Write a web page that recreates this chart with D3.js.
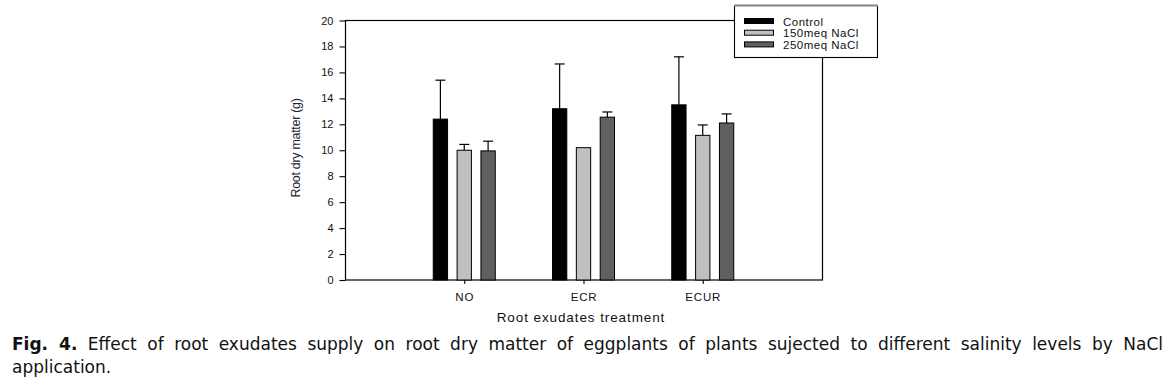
<!DOCTYPE html>
<html>
<head>
<meta charset="utf-8">
<script src="https://cdn.jsdelivr.net/npm/d3@7"></script>
<style>
	html, body { margin: 0; padding: 0; background: #fff; }
	#wrap { position: relative; width: 1172px; height: 384px; overflow: hidden; }
	#chart { position: absolute; left: 0; top: 0; }
	#caption {
		position: absolute;
		left: 12px;
		top: 333px;
		width: 1151px;
		font-family: 'DejaVu Sans', Verdana, sans-serif;
		font-size: 17px;
		line-height: 23px;
		color: #111;
	}
	#caption .line1 { text-align: justify; text-align-last: justify; }
</style>
</head>
<body>
<div id="wrap">
	<div id="chart"></div>
	<div id="caption">
		<div class="line1"><b>Fig. 4.</b> Effect of root exudates supply on root dry matter of eggplants of plants sujected to different salinity levels by NaCl</div>
		<div>application.</div>
	</div>
</div>
<script>
/* global d3 */

// Treatments on the x axis
const categories = [ 'NO', 'ECR', 'ECUR' ];

// Salinity levels (legend)
const seriesNames = [ 'Control', '150meq NaCl', '250meq NaCl' ];

// Root dry matter (g), one array per salinity level
const controlValues = [ 12.4, 13.2, 13.5 ];
const nacl150Values = [ 10.0, 10.2, 11.15 ];
const nacl250Values = [ 9.95, 12.55, 12.1 ];

// Upper error bars (g)
const controlErrors = [ 3.0, 3.45, 3.7 ];
const nacl150Errors = [ 0.45, 0, 0.8 ];
const nacl250Errors = [ 0.75, 0.4, 0.7 ];

const yTicks = [ 0, 2, 4, 6, 8, 10, 12, 14, 16, 18, 20 ];

/**
 * Grouped bar chart with upper error bars
 */
class RootMatterChart {
	constructor( selector ) {
		this.selector = selector;
		this.config = {
			width: 1172,
			height: 384,
			left: 345,
			right: 822,
			top: 20.5,
			bottom: 280,
			barWidth: 0.12,
			barStep: 0.2,
			capHalf: 5,
			fills: [ '#000000', '#c0c0c0', '#606060' ],
			font: '"Liberation Sans", Arial, sans-serif',
		};
		this.series = [
			{ name: seriesNames[ 0 ], values: controlValues, errors: controlErrors },
			{ name: seriesNames[ 1 ], values: nacl150Values, errors: nacl150Errors },
			{ name: seriesNames[ 2 ], values: nacl250Values, errors: nacl250Errors },
		];

		this.createSVG();
		this.setupScales();
		this.drawFrame();
		this.drawAxes();
		this.drawBars();
		this.drawLegend();
	}

	createSVG() {
		const { width, height } = this.config;
		this.svg = d3.select( this.selector )
			.append( 'svg' )
			.attr( 'width', width )
			.attr( 'height', height );
	}

	setupScales() {
		const { left, right, top, bottom } = this.config;
		// categories sit at 1, 2, 3 on a 0..4 axis
		this.x = d3.scaleLinear().domain( [ 0, categories.length + 1 ] ).range( [ left, right ] );
		this.y = d3.scaleLinear().domain( [ 0, 20 ] ).range( [ bottom, top ] );
	}

	drawFrame() {
		const { left, right, top, bottom } = this.config;
		this.svg.append( 'rect' )
			.attr( 'x', left + 0.5 )
			.attr( 'y', top )
			.attr( 'width', right - left )
			.attr( 'height', bottom - top )
			.attr( 'fill', 'none' )
			.attr( 'stroke', '#000' )
			.attr( 'stroke-width', 1.2 );
	}

	drawAxes() {
		const { left, bottom, font } = this.config;

		const yAxis = this.svg.append( 'g' )
			.attr( 'transform', `translate(${ left + 0.5 },0)` )
			.call( d3.axisLeft( this.y ).tickValues( yTicks ).tickSize( 6 ).tickPadding( 6 ).tickSizeOuter( 0 ) );
		yAxis.select( '.domain' ).remove();
		yAxis.selectAll( 'line' ).attr( 'stroke', '#000' ).attr( 'stroke-width', 1.1 );
		yAxis.selectAll( 'text' )
			.style( 'font-family', font )
			.style( 'font-size', '11px' )
			.attr( 'fill', '#111' );

		const xAxis = this.svg.append( 'g' )
			.attr( 'transform', `translate(0,${ bottom })` )
			.call( d3.axisBottom( this.x )
				.tickValues( categories.map( ( c, i ) => i + 1 ) )
				.tickFormat( ( d ) => categories[ d - 1 ] )
				.tickSize( 4 ).tickPadding( 9 ).tickSizeOuter( 0 ) );
		xAxis.select( '.domain' ).remove();
		xAxis.selectAll( 'line' ).attr( 'stroke', '#000' ).attr( 'stroke-width', 1.1 );
		xAxis.selectAll( 'text' )
			.style( 'font-family', font )
			.style( 'font-size', '11.5px' )
			.style( 'letter-spacing', '0.8px' )
			.attr( 'fill', '#111' );

		this.svg.append( 'text' )
			.attr( 'x', 581 )
			.attr( 'y', 322 )
			.attr( 'text-anchor', 'middle' )
			.style( 'font-family', font )
			.style( 'font-size', '13.5px' )
			.style( 'letter-spacing', '0.9px' )
			.attr( 'fill', '#111' )
			.text( 'Root exudates treatment' );

		this.svg.append( 'text' )
			.attr( 'transform', 'translate(300,148) rotate(-90)' )
			.attr( 'text-anchor', 'middle' )
			.style( 'font-family', font )
			.style( 'font-size', '12.5px' )
			.style( 'letter-spacing', '-0.3px' )
			.attr( 'fill', '#2a1a35' )
			.text( 'Root dry matter (g)' );
	}

	drawBars() {
		const { barWidth, barStep, capHalf, fills } = this.config;
		const bw = this.x( barWidth ) - this.x( 0 );

		this.series.forEach( ( s, si ) => {
			const offset = ( si - 1 ) * barStep;
			const g = this.svg.append( 'g' ).attr( 'class', 'series-' + si );
			const rows = s.values.map( ( v, i ) => ( { pos: i + 1 + offset, v, e: s.errors[ i ] } ) );

			g.selectAll( 'line.err' )
				.data( rows.filter( ( d ) => d.e > 0 ) )
				.enter()
				.append( 'line' )
				.attr( 'class', 'err' )
				.attr( 'x1', ( d ) => this.x( d.pos ) )
				.attr( 'x2', ( d ) => this.x( d.pos ) )
				.attr( 'y1', ( d ) => this.y( d.v ) )
				.attr( 'y2', ( d ) => this.y( d.v + d.e ) )
				.attr( 'stroke', '#000' )
				.attr( 'stroke-width', 1.2 );

			g.selectAll( 'line.cap' )
				.data( rows.filter( ( d ) => d.e > 0 ) )
				.enter()
				.append( 'line' )
				.attr( 'class', 'cap' )
				.attr( 'x1', ( d ) => this.x( d.pos ) - capHalf )
				.attr( 'x2', ( d ) => this.x( d.pos ) + capHalf )
				.attr( 'y1', ( d ) => this.y( d.v + d.e ) )
				.attr( 'y2', ( d ) => this.y( d.v + d.e ) )
				.attr( 'stroke', '#000' )
				.attr( 'stroke-width', 1.2 );

			g.selectAll( 'rect' )
				.data( rows )
				.enter()
				.append( 'rect' )
				.attr( 'x', ( d ) => this.x( d.pos ) - bw / 2 )
				.attr( 'y', ( d ) => this.y( d.v ) )
				.attr( 'width', bw )
				.attr( 'height', ( d ) => this.y( 0 ) - this.y( d.v ) )
				.attr( 'fill', fills[ si ] )
				.attr( 'stroke', '#000' )
				.attr( 'stroke-width', 1 );
		} );
	}

	drawLegend() {
		const { fills, font } = this.config;
		const legend = this.svg.append( 'g' ).attr( 'transform', 'translate(734,5)' );

		legend.append( 'rect' )
			.attr( 'x', 0.5 )
			.attr( 'y', 0.5 )
			.attr( 'width', 143 )
			.attr( 'height', 52 )
			.attr( 'fill', '#fff' )
			.attr( 'stroke', '#000' )
			.attr( 'stroke-width', 1.1 );
		legend.append( 'line' )
			.attr( 'x1', 0 )
			.attr( 'x2', 144 )
			.attr( 'y1', 0.5 )
			.attr( 'y2', 0.5 )
			.attr( 'stroke', '#888' )
			.attr( 'stroke-width', 2 );

		const items = legend.selectAll( 'g.item' )
			.data( seriesNames )
			.enter()
			.append( 'g' )
			.attr( 'class', 'item' )
			.attr( 'transform', ( d, i ) => `translate(10,${ 13.5 + i * 11.7 })` );

		items.append( 'rect' )
			.attr( 'x', 0.5 )
			.attr( 'y', 0 )
			.attr( 'width', 29 )
			.attr( 'height', 5 )
			.attr( 'fill', ( d, i ) => fills[ i ] )
			.attr( 'stroke', '#000' )
			.attr( 'stroke-width', 1 );

		items.append( 'text' )
			.attr( 'x', 39 )
			.attr( 'y', 7 )
			.style( 'font-family', font )
			.style( 'font-size', '11.5px' )
			.style( 'letter-spacing', '0.5px' )
			.attr( 'fill', '#111' )
			.text( ( d ) => d );
	}
}

new RootMatterChart( '#chart' );
</script>
</body>
</html>
